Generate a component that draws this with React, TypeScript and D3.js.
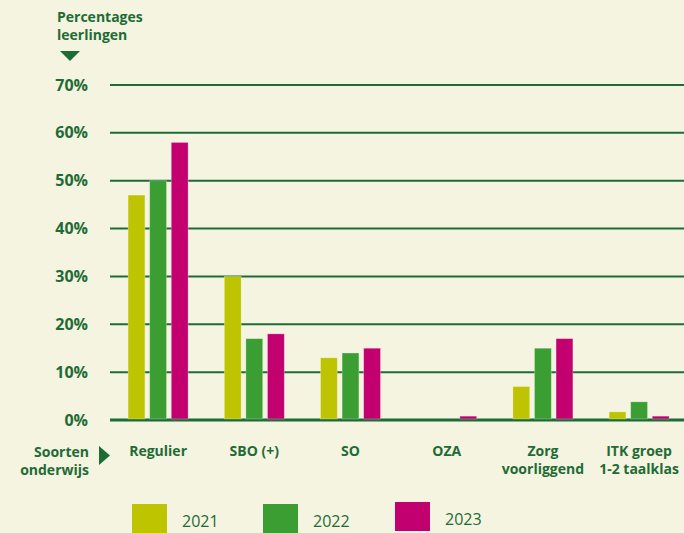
import React from "react";
import * as d3 from "d3";

const categories = ["Regulier", "SBO (+)", "SO", "OZA", "Zorg voorliggend", "ITK groep 1-2 taalklas"];
const categoryLines = [["Regulier"], ["SBO (+)"], ["SO"], ["OZA"], ["Zorg", "voorliggend"], ["ITK groep", "1-2 taalklas"]];
const years = ["2021", "2022", "2023"];
const values2021 = [47, 30, 13, 0, 7, 1.7];
const values2022 = [50, 17, 14, 0, 15, 3.8];
const values2023 = [58, 18, 15, 0.8, 17, 0.8];
const yTicks = [0, 10, 20, 30, 40, 50, 60, 70];
const colors = ["#bfc400", "#3a9e33", "#c2006f"];

const W = 684, H = 533;
const TEXT = "#1f6b35";
const FONT = "'Open Sans', 'DejaVu Sans', sans-serif";

export default function App() {
  const series = [values2021, values2022, values2023];
  const y = d3.scaleLinear().domain([0, 70]).range([420, 85]);
  const x0 = d3.scaleBand<string>().domain(categories).range([110, 110 + 6 * 96.2]).padding(0);
  const x1 = d3.scaleBand<string>().domain(years).range([-30, 30]).paddingInner(0.22).paddingOuter(0);

  const legendX = [132, 263, 395];
  const legendY = [504, 504, 502];

  return (
    <svg width={W} height={H} style={{ position: "absolute", left: 0, top: 0, display: "block" }} fontFamily={FONT}>
      <rect x={0} y={0} width={W} height={H} fill="#f4f4e1" />
      {/* title */}
      <text x={57} y={22} fill={TEXT} fontWeight="bold" fontSize={14}>Percentages</text>
      <text x={57} y={40} fill={TEXT} fontWeight="bold" fontSize={14}>leerlingen</text>
      <path d="M60,51 L80,51 L70,61 Z" fill={TEXT} />
      {/* gridlines */}
      {yTicks.map((t) => (
        <g key={t}>
          <line x1={110} x2={W} y1={y(t)} y2={y(t)} stroke={TEXT} strokeWidth={t === 0 ? 3 : 2} />
          <text x={88} y={y(t) + 5.5} textAnchor="end" fill={TEXT} fontWeight="bold" fontSize={16}>{t}%</text>
        </g>
      ))}
      {/* bars */}
      {categories.map((c, ci) => (
        <g key={c} transform={`translate(${x0(c)! + x0.bandwidth() / 2},0)`}>
          {years.map((yr, si) => {
            const v = series[si][ci];
            if (v <= 0) return null;
            return (
              <rect key={yr} x={x1(yr)!} width={x1.bandwidth()} y={y(v)} height={y(0) - y(v) - 1}
                fill={colors[si]} stroke="#ffffff" strokeOpacity={0.35} strokeWidth={0.8} />
            );
          })}
        </g>
      ))}
      {/* category labels */}
      {categories.map((c, ci) => (
        <text key={c} textAnchor="middle" fill={TEXT} fontWeight="bold" fontSize={14}
          x={x0(c)! + x0.bandwidth() / 2}>
          {categoryLines[ci].map((l, li) => (
            <tspan key={li} x={x0(c)! + x0.bandwidth() / 2} y={456 + li * 18}>{l}</tspan>
          ))}
        </text>
      ))}
      <text x={89} y={457} textAnchor="end" fill={TEXT} fontWeight="bold" fontSize={14}>Soorten</text>
      <text x={89} y={475} textAnchor="end" fill={TEXT} fontWeight="bold" fontSize={14}>onderwijs</text>
      <path d="M99,446 L110,455.5 L99,465 Z" fill={TEXT} />
      {/* legend */}
      {years.map((yr, i) => (
        <g key={yr}>
          <rect x={legendX[i]} y={legendY[i]} width={35} height={29} fill={colors[i]} />
          <text x={legendX[i] + 50} y={legendY[i] + 23} fill={TEXT} fontSize={16}>{yr}</text>
        </g>
      ))}
    </svg>
  );
}
